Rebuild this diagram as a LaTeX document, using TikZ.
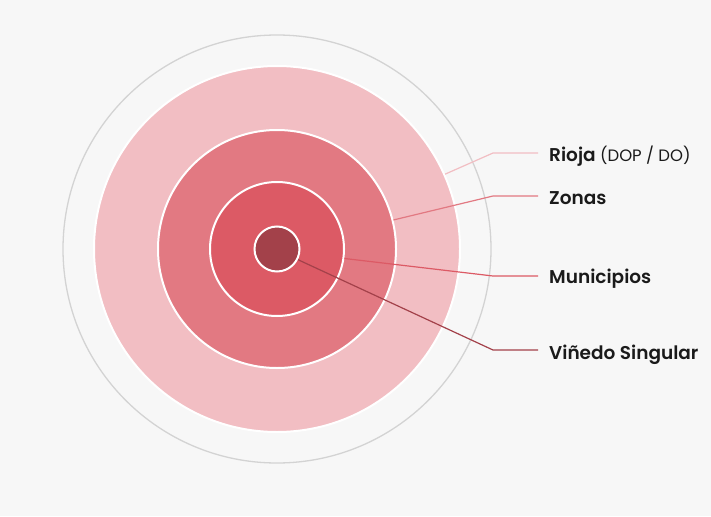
\documentclass[tikz,border=0pt]{standalone}
\usepackage{fontspec}
\setmainfont{Poppins}[BoldFont={* SemiBold}]
\definecolor{bg}{HTML}{F7F7F7}
\definecolor{ring}{HTML}{D3D3D3}
\definecolor{cA}{HTML}{F2BEC3}
\definecolor{cB}{HTML}{E27982}
\definecolor{cC}{HTML}{DC5A65}
\definecolor{cD}{HTML}{A3414A}
\definecolor{txt}{HTML}{1A1A1A}
\begin{document}
\begin{tikzpicture}[x=1pt,y=-1pt,
  disc/.style={circle,draw=white,line width=2pt,inner sep=0pt},
  lbl/.style={anchor=base west,inner sep=0pt,text=txt,font=\fontsize{18.5}{20}\selectfont\bfseries},
  lead/.style={line width=1.2pt}]
\fill[bg] (0,0) rectangle (711,516);
\useasboundingbox (0,0) rectangle (711,516);
\coordinate (c) at (277,249);
\node[circle,draw=ring,line width=1.3pt,minimum size=428pt,inner sep=0pt] (gray) at (c) {};
\node[disc,fill=cA,minimum size=366pt] (rioja) at (c) {};
\node[disc,fill=cB,minimum size=238pt] (zonas) at (c) {};
\node[disc,fill=cC,minimum size=134pt] (muni) at (c) {};
\node[disc,fill=cD,minimum size=45pt] (vin) at (c) {};
% labels
\node[lbl] (l1) at (549,161.5) {Rioja \fontsize{16.5}{18}\selectfont\mdseries(DOP / DO)};
\node[lbl] (l2) at (549,204) {Zonas};
\node[lbl] (l3) at (549,283) {Municipios};
\node[lbl] (l4) at (549,359) {Viñedo Singular};
\coordinate (b1) at (493,153);
\coordinate (b2) at (493,196);
\coordinate (b3) at (493,276);
\coordinate (b4) at (493,350);
\coordinate (e1) at (538,153);
\coordinate (e2) at (538,196);
\coordinate (e3) at (538,276);
\coordinate (e4) at (538,350);
\draw[lead,cA] (rioja.24) -- (b1) -- (e1);
\draw[lead,cB] (zonas.14) -- (b2) -- (e2);
\draw[lead,cC] (muni.-8) -- (b3) -- (e3);
\draw[lead,cD] (vin.-27) -- (b4) -- (e4);
\end{tikzpicture}
\end{document}
